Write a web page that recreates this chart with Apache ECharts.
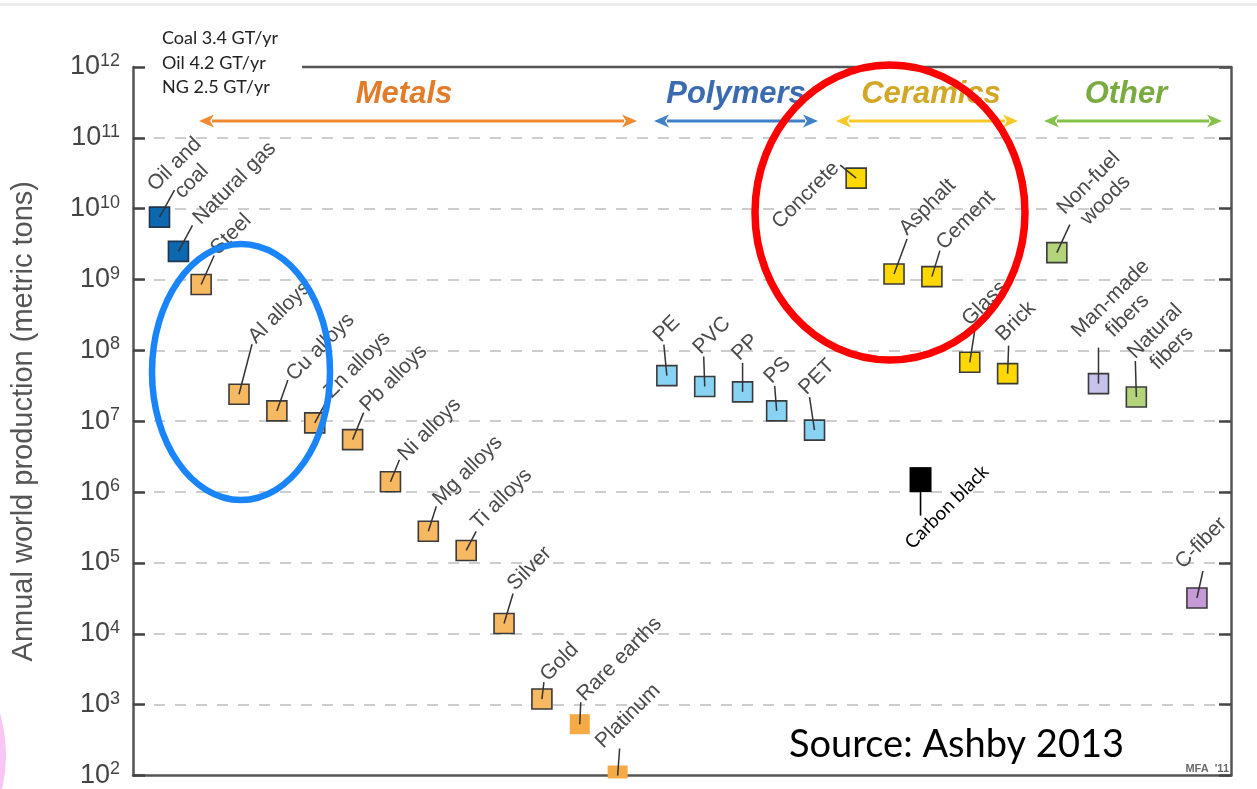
<!DOCTYPE html>
<html>
<head>
<meta charset="utf-8">
<title>Annual world production of materials</title>
<script src="https://cdn.jsdelivr.net/npm/echarts@6/dist/echarts.min.js"></script>
<style>
  html, body { margin: 0; padding: 0; background: #ffffff; }
  #chart { width: 1257px; height: 789px; }
</style>
</head>
<body>
<div id="chart"></div>
<script>
// ---- Data -------------------------------------------------------------
// Materials in plotting order (left to right)
const materials = [
  'Oil and\ncoal', 'Natural gas', 'Steel', 'Al alloys', 'Cu alloys', 'Zn alloys',
  'Pb alloys', 'Ni alloys', 'Mg alloys', 'Ti alloys', 'Silver', 'Gold',
  'Rare earths', 'Platinum',
  'PE', 'PVC', 'PP', 'PS', 'PET',
  'Concrete', 'Asphalt', 'Carbon black', 'Cement', 'Glass', 'Brick',
  'Non-fuel\nwoods', 'Man-made\nfibers', 'Natural\nfibers', 'C-fiber'
];
// Column of each material along the horizontal material axis
const columns = [
  0.7, 1.2, 1.8, 2.8, 3.8, 4.8, 5.8, 6.8, 7.8, 8.8, 9.8, 10.8, 11.8, 12.8,
  14.1, 15.1, 16.1, 17.0, 18.0,
  19.1, 20.1, 20.8, 21.1, 22.1, 23.1,
  24.4, 25.5, 26.5, 28.1
];
// Annual world production (metric tons)
const production = [
  7.6e9, 2.5e9, 8.5e8, 2.4e7, 1.4e7, 9.5e6, 5.5e6, 1.4e6, 2.8e5, 1.5e5, 1.4e4, 1.2e3,
  5.3e2, 1.0e2,
  4.4e7, 3.1e7, 2.6e7, 1.4e7, 7.5e6,
  2.7e10, 1.2e9, 1.5e6, 1.1e9, 6.8e7, 4.7e7,
  2.4e9, 3.4e7, 2.2e7, 3.2e4
];
// Material family of each point
const kinds = [
  'fuel', 'fuel', 'metal', 'metal', 'metal', 'metal', 'metal', 'metal', 'metal', 'metal', 'metal', 'metal',
  'metalPlain', 'metalPlain',
  'polymer', 'polymer', 'polymer', 'polymer', 'polymer',
  'ceramic', 'ceramic', 'black', 'ceramic', 'ceramic', 'ceramic',
  'natural', 'synthetic', 'natural', 'carbonFiber'
];
// Group headings across the top
const groupNames = ['Metals', 'Polymers', 'Ceramics', 'Other'];
// Fuel production notes
const fuelNotes = ['Coal 3.4 GT/yr', 'Oil 4.2 GT/yr', 'NG 2.5 GT/yr'];
// Decades shown on the production axis
const decadeMin = 1e2;
const decadeMax = 1e12;

// ---- Styling ----------------------------------------------------------
const kindStyle = {
  fuel:        { fill: '#0c69b0', stroke: '#1f3550' },
  metal:       { fill: '#f7b862', stroke: '#3a3a3a' },
  metalPlain:  { fill: '#f6aa45', stroke: null },
  polymer:     { fill: '#88d3f3', stroke: '#3a3a3a' },
  ceramic:     { fill: '#ffd800', stroke: '#3a3a3a' },
  black:       { fill: '#000000', stroke: null },
  natural:     { fill: '#b4d47b', stroke: '#3a3a3a' },
  synthetic:   { fill: '#c6c2ec', stroke: '#3a3a3a' },
  carbonFiber: { fill: '#c69ad6', stroke: '#3a3a3a' }
};
// Leader line from each marker centre to its label (screen px)
const leaders = {
  'Oil and\ncoal': [15, -27], 'Natural gas': [14, -26], 'Steel': [13, -29],
  'Al alloys': [13, -50], 'Cu alloys': [11, -31], 'Zn alloys': [13, -24],
  'Pb alloys': [11, -27], 'Ni alloys': [9, -22], 'Mg alloys': [8, -25],
  'Ti alloys': [10, -19], 'Silver': [9, -30], 'Gold': [2, -17],
  'Rare earths': [1, -22], 'Platinum': [2, -27],
  'PE': [-3, -31], 'PVC': [-1, -30], 'PP': [0, -29], 'PS': [-2, -25], 'PET': [-5, -33],
  'Concrete': [-16, -13], 'Asphalt': [13, -35], 'Cement': [8, -26],
  'Glass': [5, -32], 'Brick': [1, -28],
  'Non-fuel\nwoods': [13, -28], 'Man-made\nfibers': [0, -36],
  'Natural\nfibers': [-1, -36], 'C-fiber': [6, -27],
  'Carbon black': [0, 36]
};
// Label nudges in the rotated frame: [along text, across text]
const labelNudge = {
  'Oil and\ncoal': [-18, -6], 'Natural gas': [3, 0], 'Cu alloys': [0, 0], 'Ni alloys': [0, 0],
  'Ti alloys': [0, -5], 'Silver': [0, -6], 'Platinum': [-15, -17],
  'PE': [-4, -9], 'PVC': [-4, -9], 'PP': [-4, -9], 'PS': [-4, -9], 'PET': [-4, -9],
  'Asphalt': [-1, -8], 'Cement': [0, -3], 'Glass': [-4, -12], 'Brick': [-4, -12],
  'Non-fuel\nwoods': [0, -4], 'Man-made\nfibers': [-10, -14], 'Natural\nfibers': [-2, 5],
  'C-fiber': [-16, -21]
};
const DEFAULT_NUDGE = [0, -3];
const LABEL_FONT = '21px "Liberation Sans", Arial, sans-serif';
const LABEL_LH = 24;
const MARK = 20;
const U = [Math.SQRT1_2, -Math.SQRT1_2];  // along rotated baseline
const V = [Math.SQRT1_2, Math.SQRT1_2];   // "down" in rotated frame

const measureCtx = document.createElement('canvas').getContext('2d');
function blockWidth(text, font) {
  measureCtx.font = font;
  return Math.max.apply(null, text.split('\n').map(t => measureCtx.measureText(t).width));
}

function renderMaterial(params, api) {
  const i = params.dataIndex;
  const name = materials[i];
  const st = kindStyle[kinds[i]];
  const c = api.coord([api.value(0), api.value(1)]);
  const lead = leaders[name] || [8, -26];
  const children = [];

  if (kinds[i] === 'black') {
    // Carbon black: solid block, leader hanging below, label underneath
    const w = 22, h = 25;
    children.push({ type: 'rect', shape: { x: c[0] - w / 2, y: c[1] - h / 2, width: w, height: h },
      style: { fill: st.fill }, z2: 1 });
    const end = [c[0], c[1] + lead[1]];
    children.push({ type: 'line', shape: { x1: c[0], y1: c[1] + h / 2, x2: end[0], y2: end[1] },
      style: { stroke: '#000', lineWidth: 1.6 }, z2: 2 });
    children.push({ type: 'text', x: end[0] - 30 * U[0] + 3 * V[0], y: end[1] - 30 * U[1] + 3 * V[1],
      rotation: Math.PI / 4,
      style: { text: name, font: '19px Lato, "Open Sans", sans-serif', fill: '#000',
               align: 'left', verticalAlign: 'top' }, z2: 3 });
    return { type: 'group', children: children };
  }

  const rectStyle = { fill: st.fill };
  if (st.stroke) { rectStyle.stroke = st.stroke; rectStyle.lineWidth = 1.6; }
  children.push({ type: 'rect',
    shape: { x: c[0] - MARK / 2, y: c[1] - MARK / 2, width: MARK, height: MARK },
    style: rectStyle, z2: 1 });

  const end = [c[0] + lead[0], c[1] + lead[1]];
  children.push({ type: 'line', shape: { x1: c[0], y1: c[1], x2: end[0], y2: end[1] },
    style: { stroke: '#333', lineWidth: 1.5 }, z2: 2 });

  const W = blockWidth(name, LABEL_FONT);
  const gap = 3;
  const nudge = labelNudge[name] || DEFAULT_NUDGE;
  let along, align;
  if (name === 'Concrete') {
    along = -gap; align = 'right';
  } else if (name.indexOf('\n') >= 0) {
    along = gap + W / 2; align = 'center';
  } else {
    along = gap; align = 'left';
  }
  along += nudge[0];
  const across = nudge[1];
  children.push({ type: 'text',
    x: end[0] + along * U[0] + across * V[0],
    y: end[1] + along * U[1] + across * V[1],
    rotation: Math.PI / 4,
    style: { text: name, font: LABEL_FONT, fill: '#4a4a4a', align: align,
             verticalAlign: 'middle', lineHeight: LABEL_LH }, z2: 3 });
  return { type: 'group', children: children };
}

// ---- Decorations: group headings with double arrows ----------------------
const headerStyles = [
  { text: '#e07c2a', arrow: '#f08a30', cx: 404, x1: 199, x2: 637 },
  { text: '#3a6bb1', arrow: '#3f80c8', cx: 736, x1: 654, x2: 818 },
  { text: '#d3a726', arrow: '#f7c928', cx: 931, x1: 836, x2: 1018 },
  { text: '#79ab40', arrow: '#84c24a', cx: 1126, x1: 1044, x2: 1222 }
];
function doubleArrow(x1, x2, y, color) {
  const hl = 15, hw = 6.5;
  return [
    { type: 'line', shape: { x1: x1 + hl - 2, y1: y, x2: x2 - hl + 2, y2: y },
      style: { stroke: color, lineWidth: 3 }, z: 20 },
    { type: 'polygon', shape: { points: [[x1, y], [x1 + hl, y - hw], [x1 + hl - 4, y], [x1 + hl, y + hw]] },
      style: { fill: color }, z: 20 },
    { type: 'polygon', shape: { points: [[x2, y], [x2 - hl, y - hw], [x2 - hl + 4, y], [x2 - hl, y + hw]] },
      style: { fill: color }, z: 20 }
  ];
}
const graphics = [];
// slide edge at the very top
graphics.push({ type: 'rect', shape: { x: 0, y: 3, width: 1257, height: 3 },
  style: { fill: '#eeeeee' }, z: 1, silent: true });
// pink edge of a shape at the lower left
graphics.push({ type: 'circle', shape: { cx: -144, cy: 755, r: 150 },
  style: { fill: '#f8c6f4' }, z: 1, silent: true });
groupNames.forEach((g, k) => {
  const h = headerStyles[k];
  graphics.push({ type: 'text', x: h.cx, y: 94,
    style: { text: g, font: 'italic bold 31px "Liberation Sans", Arial, sans-serif', fill: h.text,
             align: 'center', verticalAlign: 'middle',
             shadowColor: 'rgba(60,40,20,0.4)', shadowOffsetX: 1, shadowOffsetY: 1, shadowBlur: 1.5 },
    z: 20 });
  doubleArrow(h.x1, h.x2, 121, h.arrow).forEach(e => graphics.push(e));
});
// top frame line, interrupted by the fuel notes
graphics.push({ type: 'line', shape: { x1: 302, y1: 67, x2: 1231, y2: 67 },
  style: { stroke: '#555', lineWidth: 2.5 }, z: 5 });
graphics.push({ type: 'text', x: 162, y: 26,
  style: { text: fuelNotes.join('\n'), font: '18px Lato, "Open Sans", sans-serif', fill: '#222',
           align: 'left', verticalAlign: 'top', lineHeight: 24.5 }, z: 20 });
// hide what falls below the bottom axis
graphics.push({ type: 'rect', shape: { x: 120, y: 778.6, width: 1137, height: 12 },
  style: { fill: '#ffffff' }, z: 30, silent: true });
// highlight ellipses
graphics.push({ type: 'ellipse', shape: { cx: 241, cy: 372, rx: 89, ry: 128 },
  style: { fill: null, stroke: '#1a84fa', lineWidth: 6.5 }, z: 40 });
graphics.push({ type: 'ellipse', shape: { cx: 890, cy: 212.5, rx: 135, ry: 147.5 },
  style: { fill: null, stroke: '#ff0000', lineWidth: 7.5 }, z: 40 });
// source note and small tag
graphics.push({ type: 'text', x: 789, y: 745,
  style: { text: 'Source: Ashby 2013', font: '38px Lato, "Open Sans", sans-serif', fill: '#000',
           align: 'left', verticalAlign: 'middle' }, z: 40 });
graphics.push({ type: 'text', x: 1229, y: 769,
  style: { text: "MFA  '11", font: 'bold 11px "Liberation Sans", Arial, sans-serif', fill: '#6a6a6a',
           align: 'right', verticalAlign: 'middle' }, z: 40 });

// ---- Chart ------------------------------------------------------------
const logAxisBase = {
  type: 'log', logBase: 10, min: decadeMin, max: decadeMax, interval: 1,
  axisLine: { show: true, lineStyle: { color: '#555', width: 2.5 } },
  axisTick: { show: true, inside: true, length: 12, lineStyle: { color: '#444', width: 2.5 } },
  minorTick: { show: false }
};

const chart = echarts.init(document.getElementById('chart'), null, { renderer: 'canvas' });
chart.setOption({
  animation: false,
  backgroundColor: '#ffffff',
  grid: { left: 133, right: 26, top: 67, bottom: 12, containLabel: false },
  xAxis: {
    type: 'value', min: 0, max: 29,
    axisLine: { show: true, onZero: false, lineStyle: { color: '#555', width: 2.5 } },
    axisTick: { show: false }, axisLabel: { show: false }, splitLine: { show: false }
  },
  yAxis: [
    Object.assign({}, logAxisBase, {
      position: 'left',
      name: 'Annual world production (metric tons)',
      nameLocation: 'middle', nameRotate: 90, nameGap: 95,
      nameTextStyle: { fontFamily: '"Liberation Sans", Arial, sans-serif', fontSize: 29, color: '#555' },
      axisLabel: {
        margin: 13,
        formatter: v => '{b|10}{s|' + Math.round(Math.log10(v)) + '}',
        rich: {
          b: { fontFamily: '"Liberation Sans", Arial, sans-serif', fontSize: 27, color: '#444', lineHeight: 30 },
          s: { fontFamily: '"Liberation Sans", Arial, sans-serif', fontSize: 18, color: '#444',
               lineHeight: 30, verticalAlign: 'top' }
        }
      },
      splitLine: { show: true, showMinLine: false, showMaxLine: false,
                   lineStyle: { color: '#cdcdcd', width: 2, type: [11, 10] } }
    }),
    Object.assign({}, logAxisBase, {
      position: 'right',
      axisLabel: { show: false },
      splitLine: { show: false }
    })
  ],
  graphic: { elements: graphics },
  series: [{
    type: 'custom',
    name: 'materials',
    coordinateSystem: 'cartesian2d',
    yAxisIndex: 0,
    renderItem: renderMaterial,
    encode: { x: 0, y: 1 },
    data: materials.map((m, i) => [columns[i], production[i]]),
    z: 10
  }]
});
</script>
</body>
</html>
